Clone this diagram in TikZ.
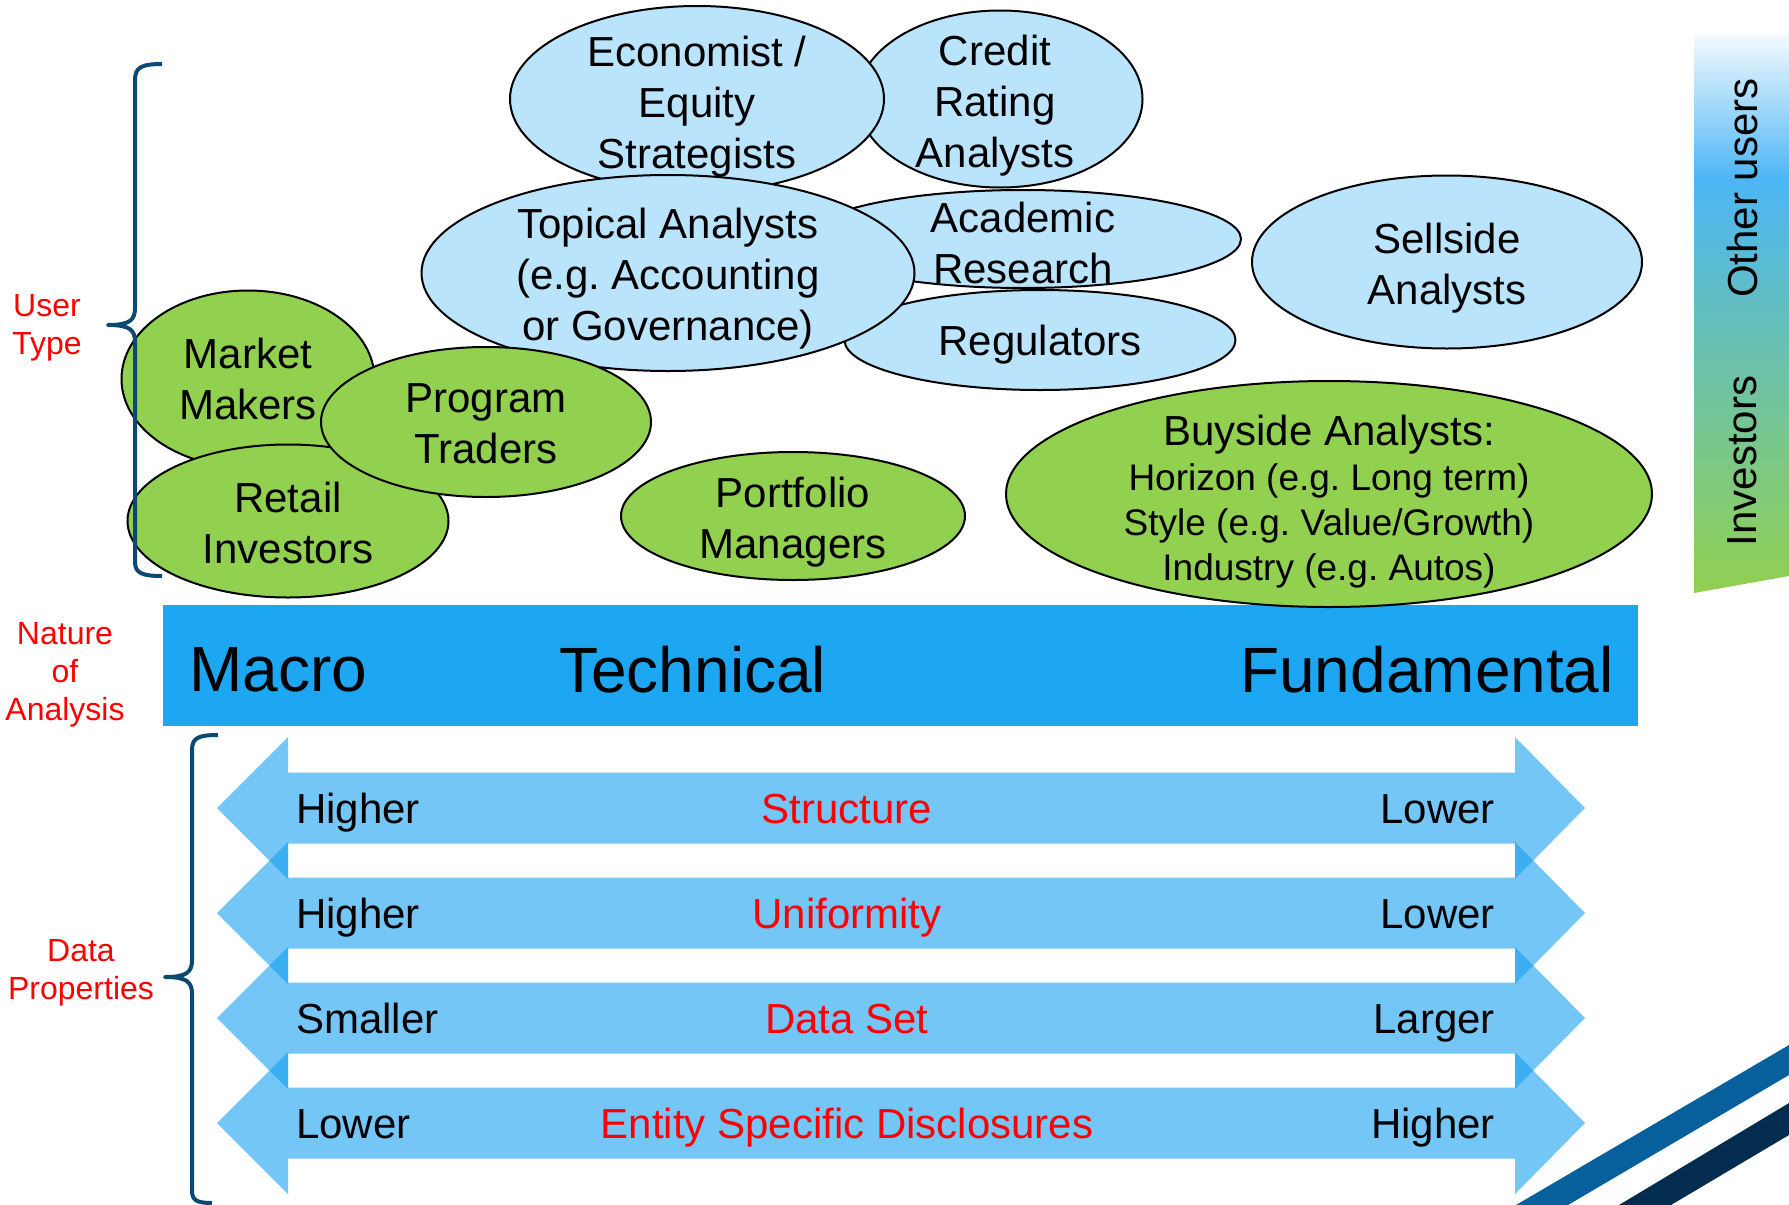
\documentclass[tikz,border=0pt]{standalone}
\usepackage{fontspec}
\setmainfont{Liberation Sans}
\usetikzlibrary{shapes.geometric}
\definecolor{userblue}{RGB}{186,228,252}
\definecolor{usergreen}{RGB}{146,208,80}
\definecolor{barblue}{RGB}{29,166,242}
\definecolor{arrowblue}{RGB}{22,160,240}
\definecolor{bracenavy}{RGB}{12,73,114}
\definecolor{sideblue}{RGB}{77,182,245}
\definecolor{stripea}{RGB}{7,96,155}
\definecolor{stripeb}{RGB}{3,44,80}
\tikzset{
  other/.style={ellipse,draw=black,line width=2pt,fill=userblue,inner sep=0pt},
  investor/.style={other,fill=usergreen},
  txt/.style={font=\fontsize{42}{51}\selectfont,align=center,inner sep=0pt},
  side/.style={font=\fontsize{32}{38}\selectfont,align=center,text=red,inner sep=0pt},
  big/.style={font=\fontsize{64}{70}\selectfont,inner sep=0pt},
  brace/.style={draw=bracenavy,line width=4pt,line join=round},
  band/.style={fill=arrowblue,fill opacity=0.6}
}
\frenchspacing
\begin{document}
\begin{tikzpicture}[x=1pt,y=-1pt]
\useasboundingbox (0,0) rectangle (1789,1205);
%side bar
\begin{scope}
\clip (1694,34) -- (1789,34) -- (1789,576) -- (1694,593) -- cycle;
\shade[top color=sideblue!6,bottom color=sideblue] (1694,34) rectangle (1789,179);
\shade[top color=sideblue,bottom color=usergreen] (1694,178) rectangle (1789,593);
\end{scope}
\node[txt,rotate=90] (others) at (1742,188) {Other users};
\node[txt,rotate=90] (investors) at (1742,461) {Investors};
%corner stripes
\fill[stripea] (1516,1205) -- (1789,1045) -- (1789,1075) -- (1568,1205) -- cycle;
\fill[stripeb] (1619,1205) -- (1789,1103) -- (1789,1135) -- (1671,1205) -- cycle;
%nature of analysis
\node[fill=barblue,minimum width=1475pt,minimum height=121pt,inner sep=0pt] (nature) at (900.5,665.5) {};
\node[big,anchor=west] (macro) at (189,670) {Macro};
\node[big,anchor=west] (technical) at (559,670) {Technical};
\node[big,anchor=east] (fundamental) at (1614,670) {Fundamental};
%other users
\node[other,minimum width=285pt,minimum height=177pt] (credit) at (1000,99) {};
\node[txt] (credit-t) at (995,106) {Credit\\Rating\\Analysts};
\node[other,minimum width=374pt,minimum height=186pt] (econ) at (697,99) {};
\node[txt] (econ-t) at (697,107) {Economist /\\Equity\\Strategists};
\node[other,minimum width=436pt,minimum height=98pt] (academic) at (1023,239) {};
\node[txt] (academic-t) at (1023,243) {Academic\\Research};
\node[other,minimum width=391pt,minimum height=100pt] (regulators) at (1040,340) {};
\node[txt] (regulators-t) at (1040,345) {Regulators};
\node[other,minimum width=493pt,minimum height=196pt] (topical) at (668,273) {};
\node[txt] (topical-t) at (668,279) {Topical Analysts\\(e.g. Accounting\\or Governance)};
\node[other,minimum width=390pt,minimum height=173pt] (sellside) at (1447,262) {};
\node[txt] (sellside-t) at (1447,268) {Sellside\\Analysts};
%investors
\node[investor,minimum width=253pt,minimum height=177pt] (market) at (248,379) {};
\node[txt] (market-t) at (market) {Market\\Makers};
\node[investor,minimum width=321pt,minimum height=153pt] (retail) at (288,521) {};
\node[txt] (retail-t) at (288,523) {Retail\\Investors};
\node[investor,minimum width=330pt,minimum height=150pt] (program) at (486,422) {};
\node[txt] (program-t) at (486,424) {Program\\Traders};
\node[investor,minimum width=344pt,minimum height=128pt] (portfolio) at (793,516) {};
\node[txt] (portfolio-t) at (793,522) {Portfolio\\Managers};
\node[investor,minimum width=646pt,minimum height=226pt] (buyside) at (1329,494) {};
\node[txt,font=\fontsize{37}{45}\selectfont] (buyside-t) at (1329,502) {{\fontsize{42}{45}\selectfont Buyside Analysts:}\\Horizon (e.g. Long term)\\Style (e.g. Value/Growth)\\Industry (e.g. Autos)};
%data properties
\foreach \lo/\prop/\hi [count=\i] in {Higher/Structure/Lower,Higher/Uniformity/Lower,Smaller/Data Set/Larger,Lower/Entity Specific Disclosures/Higher}{
  \pgfmathsetmacro{\yy}{808+105*(\i-1)}
  \fill[band] (217,\yy) -- ++(71,-71) -- ++(0,35.5) -- ++(1227,0) -- ++(0,-35.5) -- ++(70,71) -- ++(-70,71) -- ++(0,-35.5) -- ++(-1227,0) -- ++(0,35.5) -- cycle;
  \node[txt,anchor=base west] (lo\i) at (296,\yy+15) {\lo};
  \node[txt,anchor=base,text=red] (prop\i) at (847,\yy+15) {\prop};
  \node[txt,anchor=base east] (hi\i) at (1495,\yy+15) {\hi};
}
%braces and labels
\draw[brace] (162,64) .. controls (142,64) and (135,67) .. (135,80) -- (135,308) .. controls (135,320) and (130,325) .. (108,325) .. controls (130,325) and (135,330) .. (135,342) -- (135,562) .. controls (135,573) and (142,576) .. (162,576);
\draw[brace] (218,735) .. controls (198,735) and (192,738) .. (192,750) -- (192,960) .. controls (192,972) and (187,977) .. (165,977) .. controls (187,977) and (192,982) .. (192,994) -- (192,1190) .. controls (192,1200) and (196,1203) .. (212,1203);
\node[side] (usertype) at (47,328) {User\\Type};
\node[side] (naturelbl) at (65,675) {Nature\\of\\Analysis};
\node[side] (datalbl) at (81,973) {Data\\Properties};
\end{tikzpicture}
\end{document}
